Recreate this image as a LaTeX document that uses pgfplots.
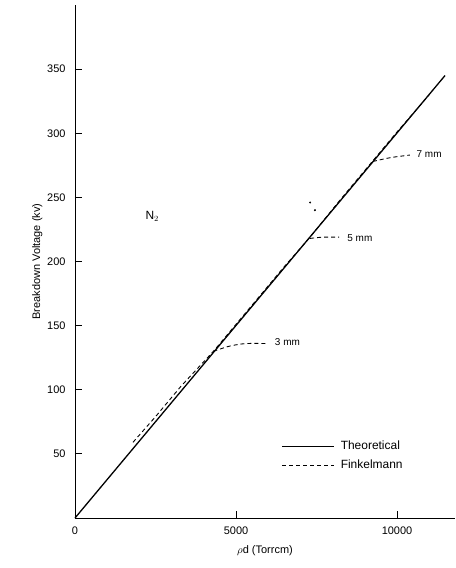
\documentclass[border=0pt]{standalone}
\usepackage{pgfplots}
\pgfplotsset{compat=1.18}
\usepackage{fontspec}
\setmainfont{Liberation Sans}
\begin{document}
\begin{tikzpicture}
\begin{axis}[
  scale only axis,
  width=380bp, height=513bp,
  xmin=0, xmax=11800, ymin=0, ymax=400,
  axis lines=left,
  axis line style={-, line width=1pt},
  xtick={0,5000,10000},
  ytick={50,100,...,350},
  scaled ticks=false,
  tick align=inside,
  major tick length=7bp,
  tick style={line width=0.9pt, black},
  /pgf/number format/set thousands separator={},
  /pgf/number format/assume math mode=true,
  ticklabel style={font=\fontsize{11}{13}\selectfont},
  yticklabel style={xshift=-6bp},
  xticklabel style={yshift=-5bp},
  xlabel={$\rho$d (Torrcm)},
  ylabel={Breakdown Voltage (kv)},
  label style={font=\fontsize{11}{13}\selectfont},
  xlabel style={yshift=-4bp},
  ylabel style={yshift=-2bp},
  legend style={draw=none, fill=none, at={(0.535,0.158)}, anchor=north west,
    font=\fontsize{12}{14}\selectfont, row sep=5bp,
    nodes={inner xsep=6bp}},
  legend cell align=left,
  legend image code/.code={\draw[#1] (0bp,0bp) -- (52bp,0bp);},
  clip=false,
]
\addplot[black, line width=1.3pt] coordinates {(0,0) (11490,345)};
\addlegendentry{Theoretical}
\addplot[black, line width=0.9pt, dash pattern=on 4bp off 3bp] coordinates {
  (1800,59) (2500,79) (3300,103) (4300,130) (5500,166) (6500,196)
  (7300,219) (8200,247) (9200,277) (10000,301) (11000,330)};
\addlegendentry{Finkelmann}
\addplot[black, line width=0.9pt, dash pattern=on 4bp off 3bp, forget plot, smooth] coordinates {
  (4300,130) (4800,134) (5300,136) (5950,136)};
\addplot[black, line width=0.9pt, dash pattern=on 4bp off 3bp, forget plot, smooth] coordinates {
  (7300,218) (7700,219) (8200,219)};
\addplot[black, line width=0.9pt, dash pattern=on 4bp off 3bp, forget plot, smooth] coordinates {
  (9250,278) (9800,281) (10400,283)};
\addplot[only marks, mark=*, mark size=0.8pt, black, forget plot] coordinates {(7300,246) (7450,240)};
\node[anchor=west, font=\fontsize{10}{12}\selectfont] at (axis cs:6100,137) {3 mm};
\node[anchor=west, font=\fontsize{10}{12}\selectfont] at (axis cs:8350,218) {5 mm};
\node[anchor=west, font=\fontsize{10}{12}\selectfont] at (axis cs:10500,284) {7 mm};
\node[font=\fontsize{12}{14}\selectfont] at (axis cs:2400,235) {N$_2$};
\end{axis}
\useasboundingbox (-75bp,-50bp) rectangle (380bp,518bp);
\end{tikzpicture}
\end{document}
